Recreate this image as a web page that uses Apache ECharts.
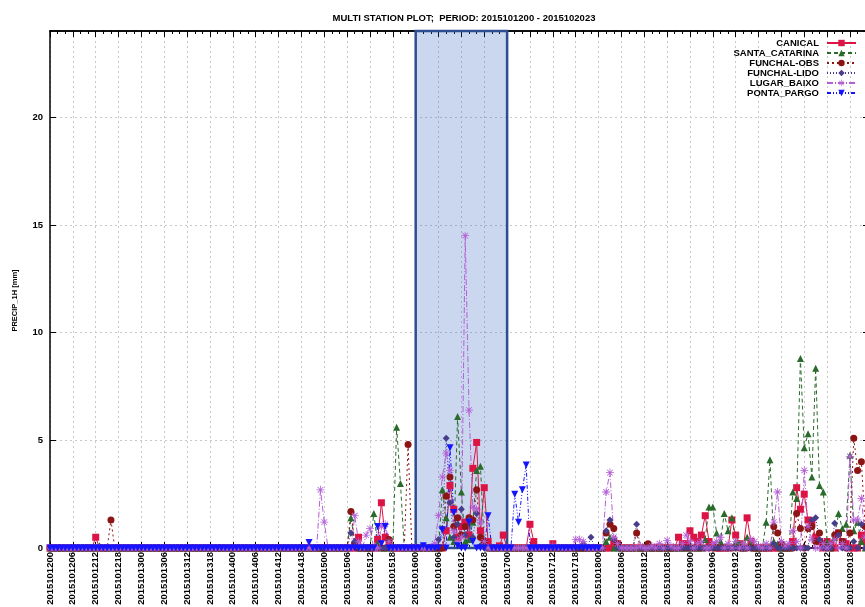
<!DOCTYPE html>
<html><head><meta charset="utf-8">
<script src="https://cdn.jsdelivr.net/npm/echarts@6/dist/echarts.min.js"></script>
<style>html,body{margin:0;padding:0;background:#fff}#c{width:865px;height:607px}</style>
</head><body><div id="c"></div>
<script>
const titleText = 'MULTI STATION PLOT;  PERIOD: 2015101200 - 2015102023';
const yName = 'PRECIP_1H [mm]';
const days = ['12','13','14','15','16','17','18','19','20'];
const hours = ['00','01','02','03','04','05','06','07','08','09','10','11','12','13','14','15','16','17','18','19','20','21','22','23'];
const categories = [];
days.forEach(d => hours.forEach(h => categories.push('201510' + d + h)));
const highlightFrom = '2015101600';
const highlightTo = '2015101700';
const yMax = 24;
const seriesNames = ['CANICAL','SANTA_CATARINA','FUNCHAL-OBS','FUNCHAL-LIDO','LUGAR_BAIXO','PONTA_PARGO'];

const canical = [
0,0,0,0,0,0,0,0,0,0,0,0,0.5,0,0,0,0,0,0,0,0,0,0,0,
0,0,0,0,0,0,0,0,0,0,0,0,0,0,0,0,0,0,0,0,0,0,0,0,
0,0,0,0,0,0,0,0,0,0,0,0,0,0,0,0,0,0,0,0,0,0,0,0,
0,0,0,0,0,0,0,0,0,0.5,0,0,0,0,0.4,2.1,0.5,0.3,0,0,0,0,0,0,
0,0,0,0,0,0,0,0,0.8,2.9,1.8,0.5,1.0,1.2,0.6,3.7,4.9,0.8,2.8,0.3,0,0,0.1,0.6,
0,0,0,0,0,0,1.1,0.3,0,0,0,0,0.2,0,0,0,0,0,0,0,0,0,0,0,
0,0,0,0,0.3,0.2,0,0,0,0,0,0,0,0,0,0,0,0,0,0,0,0.5,0.2,0.2,
0.8,0.5,0.3,0.6,1.5,0.3,0.1,0,0,0,0,1.3,0.6,0.2,0,1.4,0.3,0,0,0,0,0,0,0,
0,0,0,0.3,2.8,1.8,2.5,1.3,1.2,0.5,0.3,0,0.3,0.2,0,0.7,0.3,0.2,0,0,0,0.6,0.3,0];

const santaCatarina = [
0,0,0,0,0,0,0,0,0,0,0,0,0,0.1,0,0,0,0,0,0,0,0,0,0,
0,0,0,0,0,0,0,0,0,0,0,0,0,0,0,0,0,0,0,0,0,0,0,0,
0,0,0,0,0,0,0,0,0,0,0,0,0,0,0,0,0,0,0,0,0,0,0,0,
0,0,0,0,0,0,0,1.4,0.3,0,0,0,0,1.6,0.2,0,0,0,0,5.6,3.0,0,0,0,
0,0,0,0,0,0,0,2.7,1.4,0.5,0.3,6.1,2.6,0.3,0.4,1.2,3.6,3.8,0.2,0,0,0,0,0,
0,0,0,0,0,0,0,0,0,0,0,0,0,0,0,0,0,0,0,0,0,0,0,0,
0,0,0.3,0.5,0,0,0,0,0,0,0,0,0,0,0,0,0,0,0,0,0,0,0,0,
0,0,0,0,0.4,1.9,1.9,0.7,0.3,1.6,0.8,1.4,0.3,0.2,0,0.5,0.2,0,0,0,1.2,4.1,0.3,0.2,
0,0,0,2.6,2.3,8.8,4.65,5.3,3.3,8.35,2.9,2.6,0.3,0,0.5,1.6,0.9,1.1,4.3,0.8,1.2,0.3,0,0];

const funchalObs = [
0,0,0,0,0,0,0,0,0,0,0,0,0,0,0,0,1.3,0,0,0,0,0,0,0,
0,0,0,0,0,0,0,0,0,0,0,0,0,0,0,0,0,0,0,0,0,0,0,0,
0,0,0,0,0,0,0,0,0,0,0,0,0,0,0,0,0,0,0,0,0,0,0,0,
0,0,0,0,0,0,0,1.7,0.2,0,0,0,0,0,0,0,0,0.4,0,0,0,0,4.8,0,
0,0,0,0,0,0,0,0,2.4,3.3,1.0,1.4,0.6,1.0,1.4,1.3,2.7,0.5,0.3,0,0,0,0,0,
0,0,0,0,0,0,0,0,0,0,0,0,0,0,0,0,0,0,0,0,0,0,0,0,
0,0,0.7,1.1,0.9,0.2,0,0,0,0,0.7,0,0,0.2,0,0,0,0,0,0,0,0,0,0,
0,0,0,0,0,0,0,0,0,0,0,0,0,0,0,0,0,0,0,0,0,0,1.0,0.7,
0.2,0,0,0,1.6,0.9,0,0.9,1.0,0.3,0.7,0.2,0,0,0.6,0.7,0.3,0,0.7,5.1,3.6,4.0,1.0,0];

const funchalLido = [
0,0,0,0,0,0,0,0,0,0,0,0,0,0,0,0,0,0,0,0,0,0,0,0,
0,0,0,0,0,0,0,0,0,0,0,0,0,0,0,0,0,0,0,0,0,0,0,0,
0,0,0,0,0,0,0,0,0,0,0,0,0,0,0,0,0,0,0,0,0,0,0,0,
0,0,0,0,0,0,0,0.7,0.3,0,0,0,0,0,0,0,0,0,0,0,0,0,0,0,
0,0,0,0,0,0,0.4,0.9,5.1,2.1,0.5,1.1,1.8,0.6,1.3,0.5,1.6,0.1,0,0,0,0,0,0,
0,0,0,0,0,0,0,0,0,0,0,0,0,0,0,0,0,0,0,0,0.2,0,0.5,0,
0,0,0.8,1.3,0.4,0,0,0,0,0,1.1,0,0,0,0,0,0,0,0,0,0,0,0,0,
0,0,0,0,0,0,0,0,0,0,0,0,0,0,0,0,0,0,0,0,0,0,0.2,0,
0,0,0,0,0,0,0,0,1.3,1.4,0.4,0,0,0,1.15,0.6,0,0,0,0.3,0,1.1,0,0];

const lugarBaixo = [
0,0,0,0,0,0,0,0,0,0,0,0,0,0,0,0,0,0,0,0,0,0,0,0,
0,0,0,0,0,0,0,0,0,0,0,0,0,0,0,0,0,0,0,0,0,0,0,0,
0,0,0,0,0,0,0,0,0,0,0,0,0,0,0,0,0,0,0,0,0,0,0,2.7,
1.2,0,0,0,0,0,0,0,1.5,0.3,0,0.6,0.9,0,0,1.0,1.1,0.3,0,0,0,0,0,0,
0,0,0,0,0,0.2,1.5,3.3,4.4,3.6,0.8,0.3,0.5,14.5,6.4,1.9,1.8,1.2,0.3,0,0,0,0,0,
0,0,0,0,0,0,0,0,0,0,0,0,0.1,0,0,0,0,0,0.4,0.4,0.3,0,0,0,
0,0,2.6,3.5,0.5,0.2,0,0,0,0,0,0.1,0,0,0.1,0,0.2,0,0.35,0.1,0,0,0.2,0.6,
0.3,0,0.2,0.3,0,0,0.2,0.3,0.5,0,0.2,0,0.3,0,0.2,0,0.4,0.3,0.1,0,0.2,0,1.2,2.6,
0.3,0.1,0.2,0.8,0.3,0,3.6,1.0,0.4,0,0,0.2,0,0.2,0.4,0,0.2,0,4.25,1.3,1.3,2.3,0.5,0];

const N = null;
const pontaPargo = [
0,0,0,0,0,0,0,0,0,0,0,0,0,0,0,0,0,0,0,0,0,0,0,0,
0,0,0,0,0,0,0,0,0,0,0,0,0,0,0,0,0,0,0,0,0,0,0,0,
0,0,0,0,0,0,0,0,0,0,0,0,0,0,0,0,0,0,0,0,0.25,0,0,0,
0,0,0,0,0,0,0,0,0,0,0,0,0,0,1.0,0.2,1.0,0,0,0,0,0,0,0,
0,0,0.1,0,0,0,0,0.85,0,4.65,1.65,0.1,0,0,1.2,0.3,0,0,0,1.5,0,0,0,0,
0,0,2.5,1.2,2.7,3.85,0,0,0,0,0,0,0,0,0,0,0,0,0,0,0,0,0,0,
0,N,N,N,N,N,N,N,N,N,N,N,N,N,N,N,N,N,N,N,N,N,N,N,
N,N,N,N,N,N,N,N,N,N,N,N,N,N,N,N,N,N,N,N,N,N,N,N,
N,N,N,N,N,N,N,N,N,N,N,N,N,N,N,N,N,N,N,N,N,N,N,N];

const FONT = 'Liberation Sans';
const asterisk = 'path://M9,0 H11 V20 H9 Z M0,9 H20 V11 H0 Z M2.2,3.6 L3.6,2.2 L17.8,16.4 L16.4,17.8 Z M16.4,2.2 L17.8,3.6 L3.6,17.8 L2.2,16.4 Z';
const styles = [
  {color:'#dc1446', symbol:'rect', size:7, type:'solid', rotate:0},
  {color:'#2a6a2a', symbol:'triangle', size:7, type:[4,3], rotate:0},
  {color:'#8b1414', symbol:'circle', size:7, type:[2,3], rotate:0},
  {color:'#483d8b', symbol:'diamond', size:7, type:[1,2], rotate:0},
  {color:'#b45fd6', symbol:asterisk, size:8, type:[6,2,1,2], rotate:0},
  {color:'#1414ff', symbol:'triangle', size:7, type:[4,2,1,2,1,2], rotate:180}
];
const dataList = [canical, santaCatarina, funchalObs, funchalLido, lugarBaixo, pontaPargo];

const periodBox = [[highlightFrom, 0, highlightTo, yMax]];

const series = [{
  type:'custom', name:'period', xAxisIndex:0, yAxisIndex:0, z:1, silent:true, animation:false,
  data:periodBox,
  encode:{x:[0,2], y:[1,3]},
  renderItem:(params, api) => {
    const p0 = api.coord([api.value(0), api.value(3)]);
    const p1 = api.coord([api.value(2), api.value(1)]);
    return {type:'rect', shape:{x:p0[0], y:p0[1], width:p1[0]-p0[0], height:p1[1]-p0[1]},
      style:{fill:'rgba(48,96,192,0.25)', stroke:'#2c4e90', lineWidth:2.5}};
  }
}].concat(seriesNames.map((name, i) => {
  const s = styles[i];
  return {
    name, type:'line', data:dataList[i], xAxisIndex:0, yAxisIndex:0, z:3,
    symbol:s.symbol, symbolSize:s.size, symbolRotate:s.rotate, showAllSymbol:true,
    itemStyle:{color:s.color},
    lineStyle:{color:s.color, width:1, type:s.type},
    connectNulls:false, animation:false, emphasis:{disabled:true}, silent:true
  };
}));

const gridLine = {show:true, interval:5, lineStyle:{color:'#c8c8c8', type:[2,3], width:1}};
const mkX = (pos, showLabel, tickInterval, tickLen, split) => ({
  type:'category', data:categories, position:pos, boundaryGap:false,
  axisLine:{show:true, lineStyle:{color:'#000', width:1.5}},
  axisTick:{show:true, inside:true, interval:tickInterval, length:tickLen, lineStyle:{color:'#000', width:1}},
  axisLabel:showLabel ? {show:true, interval:5, rotate:90, fontFamily:FONT, fontWeight:'bold', fontSize:9.5, color:'#000', margin:4} : {show:false},
  splitLine: split ? gridLine : {show:false}
});

const option = {
  backgroundColor:'#fff',
  animation:false,
  title:{text:titleText, left:459, textAlign:'center', top:8,
    textStyle:{fontFamily:FONT, fontWeight:'bold', fontSize:9.5, color:'#000'}},
  legend:{
    orient:'vertical', right:8, top:38, padding:0, align:'right', itemWidth:29, itemHeight:8, itemGap:0,
    textStyle:{fontFamily:FONT, fontWeight:'bold', fontSize:9.5, lineHeight:9.8, color:'#000', padding:[0,3,0,0]},
    data:seriesNames, selectedMode:false
  },
  grid:{left:50, top:31, width:819, bottom:59, containLabel:false, outerBoundsMode:'none'},
  xAxis:[
    mkX('bottom', true, 5, 6, true),
    mkX('bottom', false, 1, 3, false),
    mkX('top', false, 5, 6, false),
    mkX('top', false, 1, 3, false)
  ],
  yAxis:[
    {type:'value', min:0, max:yMax, interval:5, position:'left',
     name:yName, nameLocation:'middle', nameGap:31,
     nameTextStyle:{fontFamily:FONT, fontWeight:'bold', fontSize:7.5, color:'#000', padding:[0,22,0,0]},
     axisLine:{show:true, lineStyle:{color:'#000', width:1.5}},
     axisTick:{show:true, inside:true, length:6, lineStyle:{color:'#000'}},
     axisLabel:{fontFamily:FONT, fontWeight:'bold', fontSize:9.5, color:'#000', margin:7, showMaxLabel:false},
     splitLine:{show:true, lineStyle:{color:'#c8c8c8', type:[2,3], width:1}}},
    {type:'value', min:0, max:yMax, interval:5, position:'right',
     axisLine:{show:true, lineStyle:{color:'#000', width:1.5}},
     axisTick:{show:true, inside:true, length:6, lineStyle:{color:'#000'}},
     axisLabel:{show:false}, splitLine:{show:false}}
  ],
  series
};
const chart = echarts.init(document.getElementById('c'), null, {renderer:'canvas'});
chart.setOption(option);
</script></body></html>
